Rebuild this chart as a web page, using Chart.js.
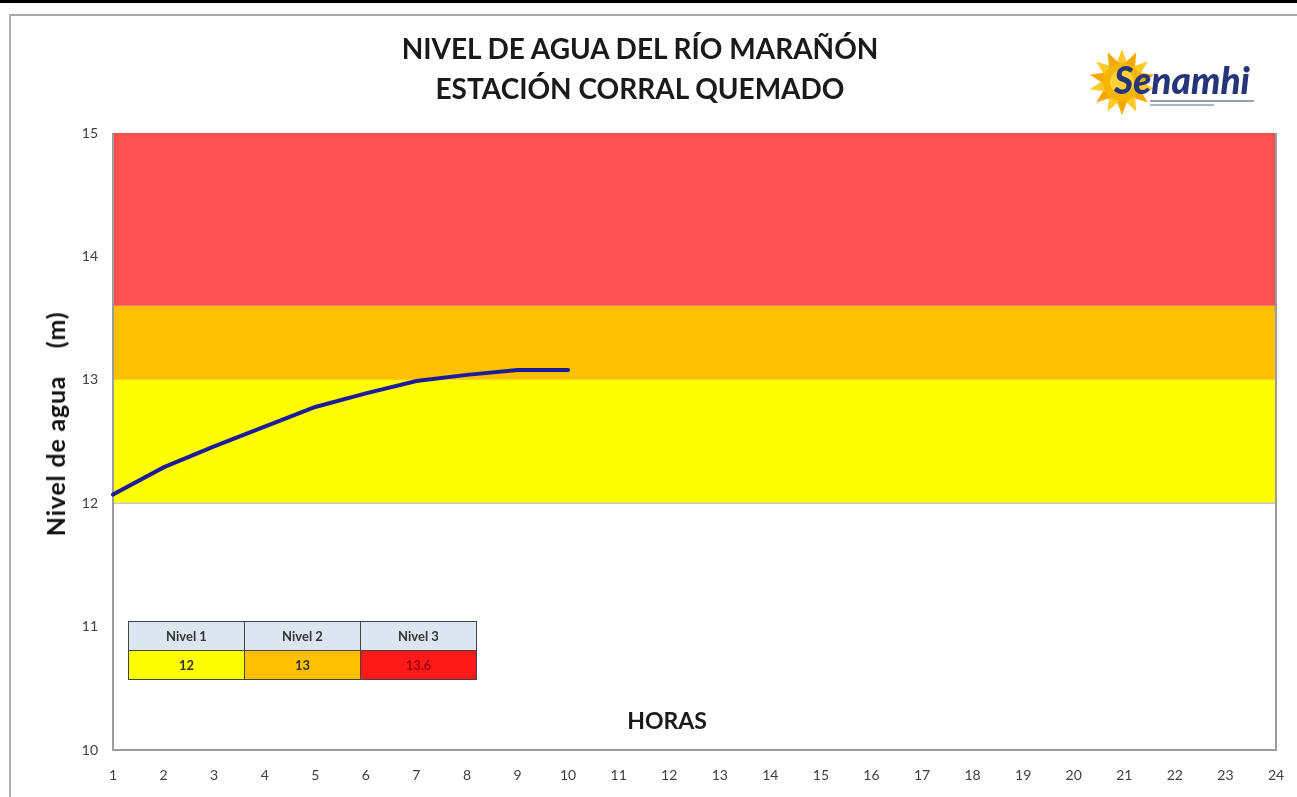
<!DOCTYPE html>
<html><head><meta charset="utf-8">
<script src="https://cdn.jsdelivr.net/npm/chart.js@4.4.1/dist/chart.umd.min.js"></script>
<style>
html,body{margin:0;padding:0;background:#fff;width:1297px;height:797px;overflow:hidden;font-family:Lato,"Open Sans",sans-serif}
#wrap{position:relative;width:1297px;height:797px}
#c{position:absolute;left:0;top:0}
.topbar{position:absolute;left:0;top:0;width:1297px;height:3px;background:#000}
.frameTop{position:absolute;left:9px;top:14px;width:1288px;height:2px;background:#a8a8a8}
.frameLeft{position:absolute;left:9px;top:14px;width:2px;height:783px;background:#b0b0b0}
.title{position:absolute;left:290px;width:700px;text-align:center;font-weight:700;font-size:28px;color:#1a1a1a;line-height:32px}
.ytitle{position:absolute;left:55px;top:424px;transform:translate(-50%,-50%) rotate(-90deg);font-weight:700;font-size:25px;letter-spacing:0.8px;color:#111;white-space:pre}
table.lv{position:absolute;left:128px;top:621px;border-collapse:collapse;font-family:Lato,sans-serif;font-weight:700;font-size:13px;color:#333}
table.lv td{border:1.5px solid #444;width:115px;height:28px;text-align:center;padding:0}
#logo{position:absolute;left:1088px;top:46px}
</style></head>
<body><div id="wrap">
<canvas id="c" width="1297" height="797"></canvas>
<div class="topbar"></div>
<div class="frameTop"></div>
<div class="frameLeft"></div>
<div class="title" style="top:32px">NIVEL DE AGUA DEL RÍO MARAÑÓN</div>
<div class="title" style="top:72px">ESTACIÓN CORRAL QUEMADO</div>
<div class="ytitle">Nivel de agua    (m)</div>
<table class="lv" id="lv"></table>
<svg id="logo" width="175" height="74" viewBox="0 0 175 74">
  <g transform="translate(34,36)">
    <g id="rays"></g>
    <circle r="19" fill="#f7b500"/>
    <circle r="12" fill="#ffd23a"/>
  </g>
  <text x="26" y="48" font-family="Lato,sans-serif" font-weight="900" font-style="italic" font-size="37" fill="#26357a">Senamhi</text>
  <rect x="62" y="54" width="104" height="2" fill="#9aa0b8"/>
  <rect x="62" y="58" width="64" height="2" fill="#b0b4c8"/>
</svg>
</div>
<script>
const hours = ['1','2','3','4','5','6','7','8','9','10','11','12','13','14','15','16','17','18','19','20','21','22','23','24'];
const nivelAgua = [12.07, 12.29, 12.46, 12.62, 12.78, 12.89, 12.99, 13.04, 13.08, 13.08];
const yTicks = [10, 11, 12, 13, 14, 15];
const umbralNombres = ['Nivel 1', 'Nivel 2', 'Nivel 3'];
const umbralValores = [12, 13, 13.6];
const umbralTope = 15;
const umbralColores = ['#ffff00', '#ffc000', '#ff5050'];
const tablaColores = ['#ffff00', '#ffc000', '#ff1a1a'];

// legend table
const lv = document.getElementById('lv');
let r1 = '<tr>' + umbralNombres.map(n => '<td style="background:#dce6f1">' + n + '</td>').join('') + '</tr>';
let r2 = '<tr>' + umbralValores.map((v, i) => '<td style="background:' + tablaColores[i] + ';' + (i === 2 ? 'color:#9a0000' : '') + '">' + v + '</td>').join('') + '</tr>';
lv.innerHTML = r1 + r2;

// logo rays
const rays = document.getElementById('rays');
let s = '';
for (let i = 0; i < 14; i++) {
  const a = i * 360 / 14;
  s += '<path d="M-6,-17 L0,-33 L6,-17 Z" fill="' + (i % 2 ? '#f5a800' : '#ffc928') + '" transform="rotate(' + a + ')"/>';
}
rays.innerHTML = s;

const bandsPlugin = {
  id: 'bands',
  beforeDatasetsDraw(chart) {
    const {ctx, chartArea: a, scales: {y}} = chart;
    ctx.save();
    const bounds = umbralValores.concat([umbralTope]);
    for (let i = 0; i < umbralValores.length; i++) {
      const yt = y.getPixelForValue(bounds[i + 1]);
      const yb = y.getPixelForValue(bounds[i]);
      ctx.fillStyle = umbralColores[i];
      ctx.fillRect(a.left, yt, a.right - a.left, yb - yt);
    }
    ctx.strokeStyle = '#c8c8c8';
    ctx.lineWidth = 1.5;
    const y12 = y.getPixelForValue(umbralValores[0]);
    ctx.beginPath(); ctx.moveTo(a.left, y12); ctx.lineTo(a.right, y12); ctx.stroke();
    ctx.strokeStyle = '#9c9c9c';
    ctx.lineWidth = 2;
    ctx.beginPath();
    ctx.moveTo(a.left, a.top); ctx.lineTo(a.left, a.bottom); ctx.lineTo(a.right, a.bottom); ctx.lineTo(a.right, a.top);
    ctx.stroke();
    ctx.restore();
  },
  afterDraw(chart) {
    const {ctx} = chart;
    ctx.save();
    ctx.font = '700 23px Lato, sans-serif';
    ctx.fillStyle = '#1a1a1a';
    ctx.textAlign = 'center';
    ctx.textBaseline = 'middle';
    ctx.fillText('HORAS', 667, 722);
    ctx.restore();
  }
};

new Chart(document.getElementById('c'), {
  type: 'line',
  data: {
    labels: hours,
    datasets: [{
      data: nivelAgua,
      borderColor: '#1c1c9a',
      borderWidth: 4,
      pointRadius: 0,
      tension: 0,
      borderCapStyle: 'round',
      fill: false
    }]
  },
  options: {
    responsive: false,
    animation: false,
    layout: {padding: {top: 133, right: 21, left: 0, bottom: 0}},
    plugins: {legend: {display: false}, title: {display: false}, tooltip: {enabled: false}},
    scales: {
      x: {
        type: 'category',
        offset: false,
        grid: {display: false},
        border: {display: false},
        ticks: {autoSkip: false, maxRotation: 0, padding: 9, color: '#404040', font: {family: 'Lato', size: 14}},
        afterFit(sc) { sc.height = 47; }
      },
      y: {
        min: 10, max: 15,
        grid: {display: false},
        border: {display: false},
        afterBuildTicks(sc) { sc.ticks = yTicks.map(v => ({value: v})); },
        ticks: {padding: 7, color: '#404040', font: {family: 'Lato', size: 14}},
        afterFit(sc) { sc.width = 113; }
      }
    }
  },
  plugins: [bandsPlugin]
});
</script>
</body></html>
